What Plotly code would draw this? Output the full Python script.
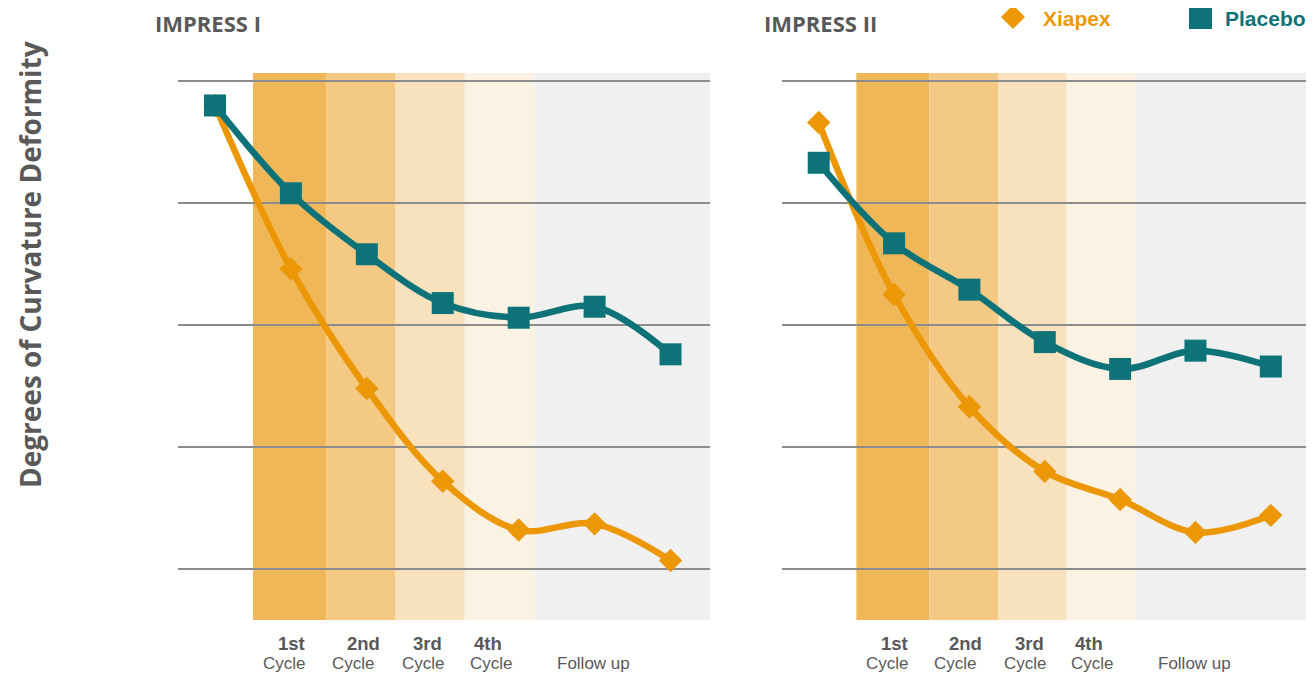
import plotly.graph_objects as go

# page offset (browser body margin)
OFF = 8
W, H = 1314 - OFF, 677 - OFF

stages = [0, 1, 2, 3, 4, 5, 6]
impress1_placebo = [48.0, 40.8, 35.8, 31.8, 30.6, 31.5, 27.6]
impress1_xiapex = [48.0, 34.6, 24.8, 17.2, 13.2, 13.7, 10.7]
impress2_placebo = [43.3, 36.7, 32.9, 28.6, 26.4, 27.9, 26.6]
impress2_xiapex = [46.6, 32.5, 23.3, 18.0, 15.7, 13.0, 14.4]

panel_titles = ["IMPRESS I", "IMPRESS II"]
cycle_ordinals = ["1st", "2nd", "3rd", "4th"]
cycle_word = "Cycle"
follow_label = "Follow up"
y_title = "Degrees of Curvature Deformity"
legend_names = ["Xiapex", "Placebo"]
grid_vals = [10, 20, 30, 40, 50]

TEAL = "#0e7378"
ORANGE = "#ec9806"
GRAY_TXT = "#595959"
band_edges = [0.5, 1.47, 2.38, 3.29, 4.21, 6.52]
band_colors = ["#f0b758", "#f4c983", "#f8e2bd", "#fcf2e4", "#f0f0f0"]


def px(x):
    return (x - OFF) / W


def py(y):
    return 1 - (y - OFF) / H


XR = [-0.487, 6.52]
YR = [5.82, 50.66]
ydom = [py(620), py(73)]
doms = [[px(178), px(710)], [px(782), px(1310)]]

fig = go.Figure()
panels = [(impress1_placebo, impress1_xiapex), (impress2_placebo, impress2_xiapex)]
shapes = []
annotations = []
lab_font = "Liberation Sans, Arial"
for i, (pl, xi) in enumerate(panels):
    xa = "x" if i == 0 else "x2"
    ya = "y" if i == 0 else "y2"
    fig.add_trace(go.Scatter(x=stages, y=xi, mode="lines+markers", xaxis=xa, yaxis=ya,
                             line=dict(color=ORANGE, width=6.5, shape="spline", smoothing=1.0),
                             marker=dict(symbol="diamond", size=18, color=ORANGE),
                             showlegend=False, name=legend_names[0]))
    fig.add_trace(go.Scatter(x=stages, y=pl, mode="lines+markers", xaxis=xa, yaxis=ya,
                             line=dict(color=TEAL, width=6.5, shape="spline", smoothing=1.0),
                             marker=dict(symbol="square", size=22, color=TEAL),
                             showlegend=False, name=legend_names[1]))
    for k in range(5):
        shapes.append(dict(type="rect", xref=xa, yref="paper", x0=band_edges[k], x1=band_edges[k + 1],
                           y0=ydom[0], y1=ydom[1], fillcolor=band_colors[k], line=dict(width=0),
                           layer="below"))
    bold_x = [1.01, 1.95, 2.80, 3.59]
    reg_x = [0.91, 1.82, 2.74, 3.64]
    for k, o in enumerate(cycle_ordinals):
        annotations.append(dict(x=bold_x[k], y=py(643), xref=xa, yref="paper", text="<b>" + o + "</b>",
                                xanchor="center", yanchor="middle", showarrow=False,
                                font=dict(family=lab_font, size=18.5, color=GRAY_TXT)))
        annotations.append(dict(x=reg_x[k], y=py(663), xref=xa, yref="paper", text=cycle_word,
                                xanchor="center", yanchor="middle", showarrow=False,
                                font=dict(family=lab_font, size=17, color=GRAY_TXT)))
    annotations.append(dict(x=4.99, y=py(663), xref=xa, yref="paper", text=follow_label,
                            xanchor="center", yanchor="middle", showarrow=False,
                            font=dict(family=lab_font, size=17, color=GRAY_TXT)))

# panel titles
for t, x0 in zip(panel_titles, [153, 762]):
    annotations.append(dict(x=px(x0), y=py(23), xref="paper", yref="paper", xanchor="left", yanchor="middle",
                            text="<b>" + t + "</b>", showarrow=False,
                            font=dict(family="Open Sans", size=22, color=GRAY_TXT)))
# y title
annotations.append(dict(x=px(30), y=py(265), xref="paper", yref="paper", xanchor="center", yanchor="middle",
                        text="<b>" + y_title + "</b>", textangle=-90, showarrow=False,
                        font=dict(family="Open Sans", size=28, color=GRAY_TXT)))
# legend
annotations.append(dict(x=px(1041), y=py(18), xref="paper", yref="paper", xanchor="left", yanchor="middle",
                        text="<b>" + legend_names[0] + "</b>", showarrow=False,
                        font=dict(family=lab_font, size=21, color=ORANGE)))
annotations.append(dict(x=px(1223), y=py(18), xref="paper", yref="paper", xanchor="left", yanchor="middle",
                        text="<b>" + legend_names[1] + "</b>", showarrow=False,
                        font=dict(family=lab_font, size=21, color=TEAL)))

cx, cy, r = 1013, 17, 12
shapes.append(dict(type="path", xref="paper", yref="paper",
                   path=f"M {px(cx)},{py(cy - r)} L {px(cx + r)},{py(cy)} L {px(cx)},{py(cy + r)} L {px(cx - r)},{py(cy)} Z",
                   fillcolor=ORANGE, line=dict(width=0)))
shapes.append(dict(type="rect", xref="paper", yref="paper", x0=px(1189), x1=px(1212), y0=py(29), y1=py(6),
                   fillcolor=TEAL, line=dict(width=0)))

axis_common = dict(showticklabels=False, ticks="", zeroline=False, showline=False)
fig.update_layout(
    width=W, height=H, margin=dict(l=0, r=0, t=0, b=0), autosize=False,
    paper_bgcolor="white", plot_bgcolor="rgba(0,0,0,0)",
    xaxis=dict(domain=doms[0], range=XR, showgrid=False, **axis_common),
    xaxis2=dict(domain=doms[1], range=XR, showgrid=False, **axis_common),
    yaxis=dict(domain=ydom, range=YR, tickvals=grid_vals, showgrid=True, gridcolor="#8c8c8c", gridwidth=1.5,
               anchor="x", **axis_common),
    yaxis2=dict(domain=ydom, range=YR, tickvals=grid_vals, showgrid=True, gridcolor="#8c8c8c", gridwidth=1.5,
                anchor="x2", **axis_common),
    shapes=shapes, annotations=annotations,
)
fig.write_html("out.html")
